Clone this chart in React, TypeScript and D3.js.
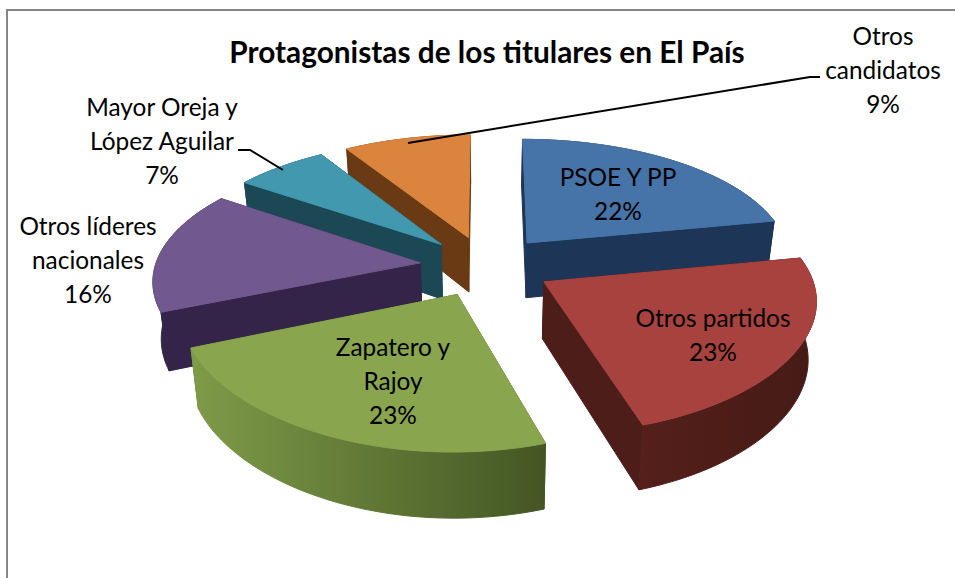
import React from "react";
import * as d3 from "d3";

const titleText = "Protagonistas de los titulares en El País";
const categories = ["PSOE Y PP", "Otros partidos", "Zapatero y Rajoy", "Otros líderes nacionales", "Mayor Oreja y López Aguilar", "Otros candidatos"];
const values = [21.9, 23.3, 23.49, 15.9, 6.55, 8.86];
const topColors = ["#4674a8", "#a8423f", "#89a54e", "#71588f", "#4198af", "#db843d"];
const sideColors = ["#1d3557", "#4d1e19", "#4f6328", "#35244a", "#1c4855", "#693a13"];
const rimDark = ["#1d3557", "#451b16", "#435624", "#35244a", "#1c4855", "#693a13"];
const rimLight = ["#1d3557", "#551f1a", "#7f9b48", "#35244a", "#1c4855", "#693a13"];
const paintOrder = [5, 4, 0, 3, 1, 2];

const labelLines = [
  ["PSOE Y PP", "22%"],
  ["Otros partidos", "23%"],
  ["Zapatero y", "Rajoy", "23%"],
  ["Otros líderes", "nacionales", "16%"],
  ["Mayor Oreja y", "López Aguilar", "7%"],
  ["Otros", "candidatos", "9%"],
];
const labelCenters: [number, number][] = [[618, 186], [713, 327], [393, 356], [88, 235], [162, 116], [883, 45]];
const leaders: [number, number][][] = [
  [[238, 150], [250, 150], [283, 170]],
  [[408, 143], [810, 77], [820, 77]],
];

// projection of the pie's ground plane on the screen
const cx = 486, cy = 266, A = 265, B = 122, persp = 0.125, depth = 56, explode = 0.25, shrink = 0.975, frontStretch = 0.035;
const FONT = "Lato, Carlito, Calibri, sans-serif";

function project(X: number, Y: number, drop = 0): [number, number] {
  const s = 1 / (1 - persp * Y);
  const k = drop ? shrink : 1;
  const stretch = Y > 0 ? 1 + frontStretch * Y * Y : 1;
  return [cx + X * A * s * k, cy + Y * B * s * stretch + drop * depth * s];
}

export default function App() {
  const arcs = d3.pie<number>().sort(null).startAngle(0).endAngle(2 * Math.PI)(values);
  const line = d3.line();
  const sliceShapes = arcs.map((a) => {
    const mid = (a.startAngle + a.endAngle) / 2;
    const ox = explode * Math.sin(mid), oy = -explode * Math.cos(mid);
    const angles = d3.range(0, 41).map((i) => a.startAngle + ((a.endAngle - a.startAngle) * i) / 40);
    const rim = angles.map((t) => [ox + Math.sin(t), oy - Math.cos(t)] as [number, number]);
    const apexG: [number, number] = [ox, oy];
    const top = [project(...apexG), ...rim.map((p) => project(p[0], p[1]))];
    const bottomRim = rim.map((p) => project(p[0], p[1], 1));
    const topRim = rim.map((p) => project(p[0], p[1]));
    const apexT = project(...apexG);
    const apexB = project(apexG[0], apexG[1], 1);
    const startFace = [apexT, topRim[0], bottomRim[0], apexB];
    const endFace = [apexT, topRim[40], bottomRim[40], apexB];
    const rimFace = [...topRim, ...bottomRim.slice().reverse()];
    return { top, startFace, endFace, rimFace };
  });

  return (
    <svg width={955} height={578} style={{ position: "absolute", left: 0, top: 0 }} fontFamily={FONT}>
      <defs>
        {topColors.map((c, i) => (
          <linearGradient key={i} id={`rim${i}`} x1="0" x2="1" y1="0" y2="0">
            <stop offset="0" stopColor={rimLight[i]} />
            <stop offset="1" stopColor={rimDark[i]} />
          </linearGradient>
        ))}
      </defs>
      <rect x={0} y={0} width={955} height={578} fill="#ffffff" />
      <path d="M7,578V10H955" fill="none" stroke="#868686" strokeWidth={2} />
      {paintOrder.map((i) => {
        const s = sliceShapes[i];
        return (
          <g key={i}>
            <path d={line(s.startFace)! + "Z"} fill={sideColors[i]} stroke={sideColors[i]} strokeWidth={1} />
            <path d={line(s.endFace)! + "Z"} fill={sideColors[i]} stroke={sideColors[i]} strokeWidth={1} />
            <path d={line(s.rimFace)! + "Z"} fill={`url(#rim${i})`} stroke={`url(#rim${i})`} strokeWidth={1} />
            <path d={line(s.top)! + "Z"} fill={topColors[i]} stroke={topColors[i]} strokeWidth={1} />
          </g>
        );
      })}
      {leaders.map((l, i) => (
        <path key={i} d={line(l)!} fill="none" stroke="#000" strokeWidth={2} />
      ))}
      <text x={487} y={63} textAnchor="middle" fontSize={29.8} fontWeight={700}>{titleText}</text>
      {labelLines.map((ls, i) => (
        <text key={categories[i]} textAnchor="middle" fontSize={24.4} fill="#000">
          {ls.map((t, j) => (
            <tspan key={j} x={labelCenters[i][0]} y={labelCenters[i][1] + j * 34}>{t}</tspan>
          ))}
        </text>
      ))}
    </svg>
  );
}
